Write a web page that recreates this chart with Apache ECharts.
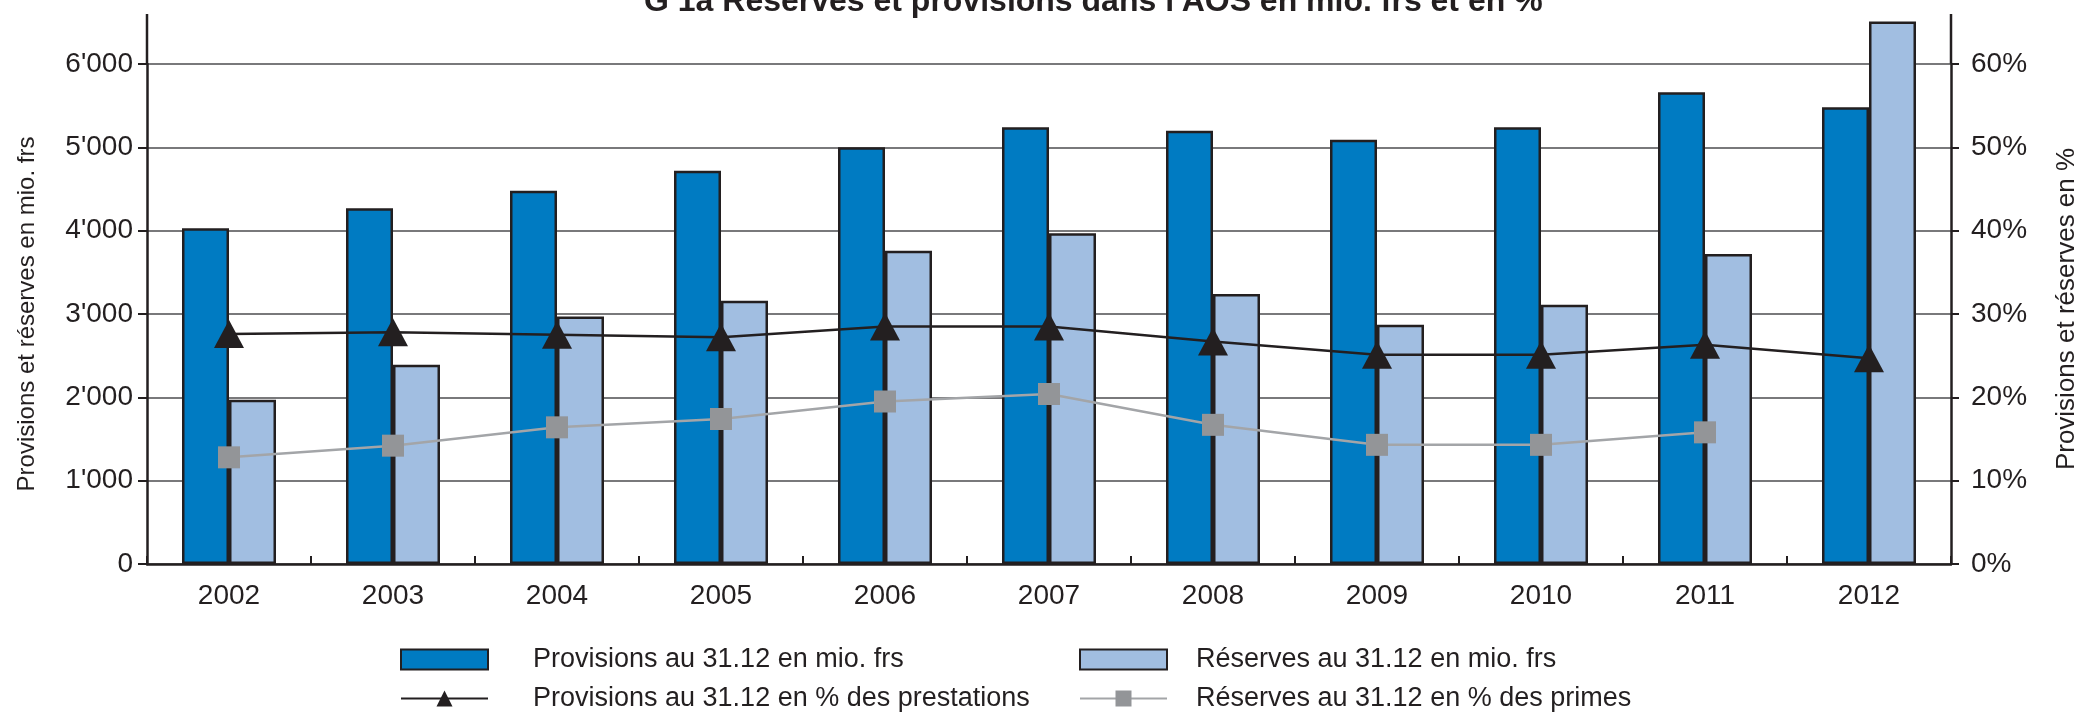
<!DOCTYPE html>
<html>
<head>
<meta charset="utf-8">
<script src="https://cdn.jsdelivr.net/npm/echarts@6/dist/echarts.min.js"></script>
<style>html,body{margin:0;padding:0;background:#fff;}#chart{width:2085px;height:717px;}</style>
</head>
<body>
<div id="chart"></div>
<script>
const categories = ['2002', '2003', '2004', '2005', '2006', '2007', '2008', '2009', '2010', '2011', '2012'];
const provisions = [4030, 4270, 4480, 4720, 5000, 5240, 5200, 5090, 5240, 5660, 5480];
const reserves = [1970, 2390, 2970, 3160, 3760, 3970, 3240, 2870, 3110, 3720, 6510];
const provisionsPct = [27.6, 27.8, 27.5, 27.2, 28.5, 28.5, 26.7, 25.1, 25.1, 26.3, 24.7];
const reservesPct = [12.8, 14.2, 16.4, 17.4, 19.5, 20.4, 16.7, 14.3, 14.3, 15.8, null];
const leftTicks = [0, 1000, 2000, 3000, 4000, 5000, 6000];
const rightTicks = [0, 10, 20, 30, 40, 50, 60];

const names = {
  provBar: 'Provisions au 31.12 en mio. frs',
  resBar: 'Réserves au 31.12 en mio. frs',
  provLine: 'Provisions au 31.12 en % des prestations',
  resLine: 'Réserves au 31.12 en % des primes'
};

const FONT = '"Liberation Sans", Arial, Helvetica, sans-serif';
const INK = '#231f20';

const chart = echarts.init(document.getElementById('chart'), null, {renderer: 'canvas'});
const fmtThousands = v => String(v).replace(/\B(?=(\d{3})+(?!\d))/g, "'");

const option = {
  backgroundColor: '#ffffff',
  animation: false,
  textStyle: {fontFamily: FONT, color: INK},
  title: {
    text: "G 1a Réserves et provisions dans l'AOS en mio. frs et en %",
    left: 644,
    top: -14,
    padding: 0,
    textStyle: {fontFamily: FONT, fontSize: 32, fontWeight: 'bold', color: INK}
  },
  grid: {left: 147, right: 134, top: 64, bottom: 153, containLabel: false, outerBoundsMode: 'none'},
  legend: [
    {
      data: [{name: names.provBar, icon: 'rect'}, {name: names.provLine}],
      orient: 'vertical', left: 395, top: 641,
      itemWidth: 87, itemHeight: 20, itemGap: 12,
      textStyle: {fontFamily: FONT, fontSize: 27, color: INK, padding: [0, 0, 0, 40]}
    },
    {
      data: [{name: names.resBar, icon: 'rect'}, {name: names.resLine}],
      orient: 'vertical', left: 1074, top: 641,
      itemWidth: 87, itemHeight: 20, itemGap: 12,
      textStyle: {fontFamily: FONT, fontSize: 27, color: INK, padding: [0, 0, 0, 24]}
    }
  ],
  xAxis: {
    type: 'category',
    data: categories,
    boundaryGap: true,
    axisLine: {show: true, onZero: false, lineStyle: {color: INK, width: 2.5}},
    axisTick: {show: true, inside: true, length: 8, lineStyle: {color: INK, width: 2}},
    axisLabel: {fontFamily: FONT, fontSize: 28, color: INK, margin: 18},
    splitLine: {show: false}
  },
  yAxis: [
    {
      type: 'value', min: 0, max: 6000, interval: 1000,
      name: 'Provisions et réserves en mio. frs',
      nameLocation: 'middle', nameGap: 108, nameRotate: 90,
      nameTextStyle: {fontFamily: FONT, fontSize: 24, color: INK},
      axisLine: {show: true, lineStyle: {color: INK, width: 2.5}},
      axisTick: {show: true, length: 9, lineStyle: {color: INK, width: 2}},
      axisLabel: {fontFamily: FONT, fontSize: 28, color: INK, margin: 14, formatter: fmtThousands},
      splitLine: {show: true, lineStyle: {color: '#4d4d4f', width: 1.5}}
    },
    {
      type: 'value', min: 0, max: 60, interval: 10, position: 'right',
      name: 'Provisions et réserves en %',
      nameLocation: 'middle', nameGap: 103, nameRotate: 90,
      nameTextStyle: {fontFamily: FONT, fontSize: 26, color: INK, padding: [0, 0, 0, 10]},
      axisLine: {show: true, lineStyle: {color: INK, width: 2.5}},
      axisTick: {show: true, length: 8, lineStyle: {color: INK, width: 2}},
      axisLabel: {fontFamily: FONT, fontSize: 28, color: INK, margin: 20, formatter: '{value}%'},
      splitLine: {show: false}
    }
  ],
  graphic: [
    {type: 'line', shape: {x1: 147, y1: 14, x2: 147, y2: 64}, style: {stroke: INK, lineWidth: 2.5}, silent: true},
    {type: 'line', shape: {x1: 1951, y1: 14, x2: 1951, y2: 64}, style: {stroke: INK, lineWidth: 2.5}, silent: true}
  ],
  series: [
    {
      name: names.provBar, type: 'bar', yAxisIndex: 0, data: provisions,
      barWidth: 47, barGap: '0%', clip: false,
      itemStyle: {color: '#007bc2', borderColor: INK, borderWidth: 2.5},
      z: 2
    },
    {
      name: names.resBar, type: 'bar', yAxisIndex: 0, data: reserves,
      barWidth: 47, barGap: '0%', clip: false,
      itemStyle: {color: '#a1bee1', borderColor: INK, borderWidth: 2.5},
      z: 2
    },
    {
      name: names.provLine, type: 'line', yAxisIndex: 1, data: provisionsPct,
      symbol: 'triangle', symbolSize: [30, 28], showAllSymbol: true,
      lineStyle: {color: INK, width: 2.5},
      itemStyle: {color: INK},
      z: 5
    },
    {
      name: names.resLine, type: 'line', yAxisIndex: 1, data: reservesPct,
      symbol: 'rect', symbolSize: 22, showAllSymbol: true, connectNulls: false,
      lineStyle: {color: '#a3a5a8', width: 2.5},
      itemStyle: {color: '#939598'},
      z: 4
    }
  ]
};
chart.setOption(option);
</script>
</body>
</html>
